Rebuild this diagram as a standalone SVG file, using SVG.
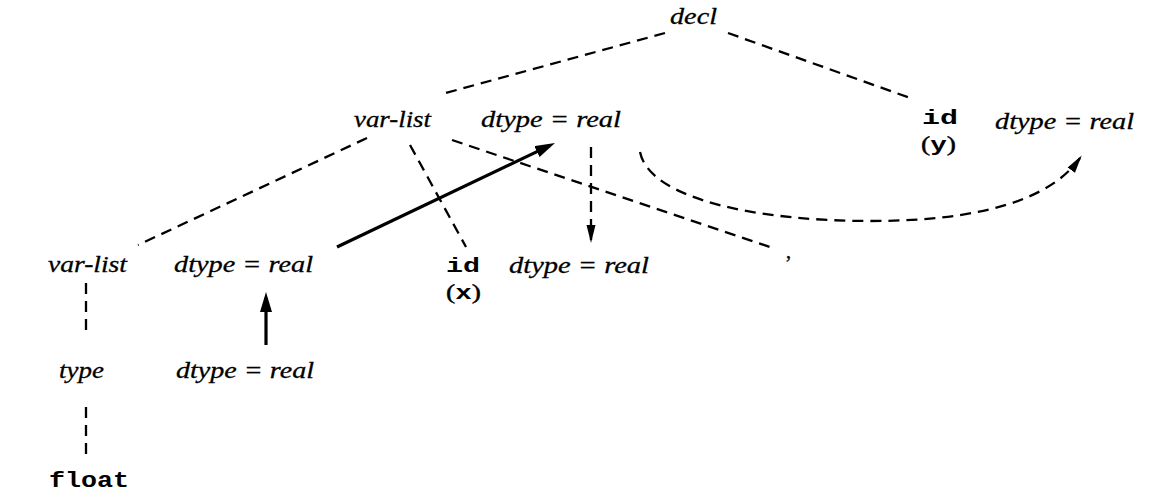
<svg xmlns="http://www.w3.org/2000/svg" width="1165" height="499" viewBox="0 0 1165 499">
<style>
.t{font-family:"Liberation Serif",serif;font-style:italic;font-size:24px;fill:#000;stroke:#000;stroke-width:0.3}
.p{font-family:"Liberation Serif",serif;font-size:20px;fill:#000;stroke:#000;stroke-width:0.4}
.m{font-family:"Liberation Mono",monospace;font-weight:bold;font-size:20px;fill:#000}
.d{stroke:#000;stroke-width:2.3;stroke-dasharray:11 7;fill:none}
.s{stroke:#000;stroke-width:3.2;fill:none}
</style>
<defs>
<marker id="big" markerUnits="userSpaceOnUse" markerWidth="20" markerHeight="12" refX="14" refY="6" orient="auto"><path d="M0,0 L20,6 L0,12 z" fill="#000"/></marker>
<marker id="sm" markerUnits="userSpaceOnUse" markerWidth="18" markerHeight="10" refX="15" refY="5" orient="auto"><path d="M0,0.5 L18,5 L0,9.5 z" fill="#000"/></marker>
</defs>
<rect width="1165" height="499" fill="#fff"/>
<g id="connectors">
<line class="d" x1="665" y1="33" x2="442" y2="94"/>
<line class="d" x1="728" y1="33" x2="913" y2="99"/>
<line class="d" x1="367" y1="138" x2="138" y2="245"/>
<line class="d" x1="410" y1="145" x2="466" y2="247"/>
<line class="d" x1="452" y1="140" x2="770" y2="247"/>
<line class="d" x1="86" y1="283" x2="86" y2="337"/>
<line class="d" x1="86" y1="407" x2="86" y2="457"/>
<line class="s" x1="337" y1="247" x2="549.6" y2="145.6" marker-end="url(#big)"/>
<line class="s" x1="266" y1="345" x2="266" y2="298" marker-end="url(#big)"/>
<line class="d" x1="591" y1="147" x2="591" y2="240" marker-end="url(#sm)"/>
<path class="d" d="M640,152 C650,200 760,221 870,221 C980,221 1050,200 1080,158" marker-end="url(#sm)"/>
</g>
<g id="decl"><text class="t" x="670" y="24" textLength="47" lengthAdjust="spacingAndGlyphs">decl</text></g>
<g id="varlist-top"><text class="t" x="354" y="127" textLength="77" lengthAdjust="spacingAndGlyphs">var-list</text></g>
<g id="dtype-top"><text class="t" x="481" y="127" textLength="140" lengthAdjust="spacingAndGlyphs">dtype = real</text></g>
<g id="id-y">
<text class="m" x="922" y="124" textLength="36" lengthAdjust="spacingAndGlyphs">id</text>
<text class="p" x="921" y="151" textLength="35" lengthAdjust="spacingAndGlyphs">(<tspan class="m" style="stroke:none">y</tspan>)</text>
</g>
<g id="dtype-y"><text class="t" x="995" y="129" textLength="139" lengthAdjust="spacingAndGlyphs">dtype = real</text></g>
<g id="varlist-bottom"><text class="t" x="48" y="272" textLength="79" lengthAdjust="spacingAndGlyphs">var-list</text></g>
<g id="dtype-bottom"><text class="t" x="174" y="272" textLength="139" lengthAdjust="spacingAndGlyphs">dtype = real</text></g>
<g id="id-x">
<text class="m" x="446" y="272" textLength="34" lengthAdjust="spacingAndGlyphs">id</text>
<text class="p" x="446" y="299" textLength="35" lengthAdjust="spacingAndGlyphs">(<tspan class="m" style="stroke:none">x</tspan>)</text>
</g>
<g id="dtype-x"><text class="t" x="509" y="273" textLength="140" lengthAdjust="spacingAndGlyphs">dtype = real</text></g>
<g id="comma"><text class="p" x="786" y="258">,</text></g>
<g id="type"><text class="t" x="59" y="378" textLength="45" lengthAdjust="spacingAndGlyphs">type</text></g>
<g id="dtype-type"><text class="t" x="176" y="378" textLength="138" lengthAdjust="spacingAndGlyphs">dtype = real</text></g>
<g id="float"><text class="m" x="49" y="487" textLength="80" lengthAdjust="spacingAndGlyphs" style="font-size:22px">float</text></g>
</svg>
